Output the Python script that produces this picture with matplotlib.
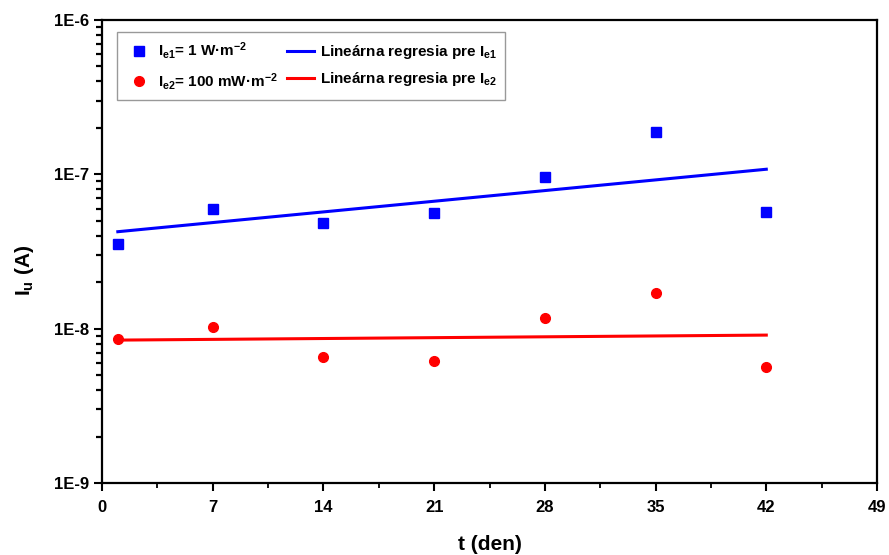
import numpy as np
import matplotlib
matplotlib.use("Agg")
import matplotlib.pyplot as plt

plt.rcParams['font.family'] = ['Liberation Sans', 'DejaVu Sans']
plt.rcParams['font.weight'] = 'bold'
plt.rcParams['mathtext.fontset'] = 'custom'
plt.rcParams['mathtext.rm'] = 'Liberation Sans:bold'
plt.rcParams['mathtext.it'] = 'Liberation Sans:bold'
plt.rcParams['mathtext.bf'] = 'Liberation Sans:bold'

# measurement days
t_days = [1, 7, 14, 21, 28, 35, 42]
# current at Ie1 = 1 W/m2
iu_e1 = [3.56e-8, 6.0e-8, 4.87e-8, 5.65e-8, 9.66e-8, 1.89e-7, 5.74e-8]
# current at Ie2 = 100 mW/m2
iu_e2 = [8.53e-9, 1.02e-8, 6.53e-9, 6.15e-9, 1.18e-8, 1.69e-8, 5.62e-9]

x_ticks = [0, 7, 14, 21, 28, 35, 42, 49]
y_ticks = [1e-9, 1e-8, 1e-7, 1e-6]
y_tick_labels = ["1E-9", "1E-8", "1E-7", "1E-6"]


def log_fit(x, y):
    # linear regression of log10(I) against t
    k, q = np.polyfit(x, np.log10(y), 1)
    xs = np.array([x[0], x[-1]])
    return xs, 10 ** (k * xs + q)


fig = plt.figure(figsize=(8.89, 5.55), dpi=100)
ax = fig.add_axes([102 / 889, 1 - 483 / 555, 775 / 889, 463 / 555])

ax.set_yscale('log')
ax.set_xlim(0, 49)
ax.set_ylim(1e-9, 1e-6)

ax.plot(t_days, iu_e1, 's', color='#0000ff', markersize=7, linestyle='none',
        label=r'$I_{e1}$= 1 W·m$^{-2}$')
ax.plot(t_days, iu_e2, 'o', color='#ff0000', markersize=7, linestyle='none',
        label=r'$I_{e2}$= 100 mW·m$^{-2}$')

fx, fy = log_fit(t_days, iu_e1)
ax.plot(fx, fy, color='#0000ff', linewidth=2.2, label=r'Lineárna regresia pre $I_{e1}$')
fx, fy = log_fit(t_days, iu_e2)
ax.plot(fx, fy, color='#ff0000', linewidth=2.2, label=r'Lineárna regresia pre $I_{e2}$')

ax.set_xticks(x_ticks)
ax.set_xticks(np.arange(3.5, 49, 7), minor=True)
ax.set_yticks(y_ticks)
ax.set_yticklabels(y_tick_labels)
# 2..9 inside every decade
minor_y = [m * 10.0 ** e for e in range(-9, -6) for m in range(2, 10)]
ax.set_yticks(minor_y, minor=True)

for s in ax.spines.values():
    s.set_linewidth(1.6)
ax.tick_params(axis='both', which='major', direction='out', length=6, width=1.5,
               labelsize=12, top=False, right=False)
ax.tick_params(axis='both', which='minor', direction='out', length=3.5, width=1.3,
               top=False, right=False, labelleft=False, labelbottom=False)
ax.tick_params(axis='y', which='minor', length=4, width=1.6, color='black')
ax.tick_params(axis='x', which='major', pad=6)

ax.set_xlabel('t (den)', fontsize=15, fontweight='bold', labelpad=15)
ax.set_ylabel(r'$I_u$ (A)', fontsize=15, fontweight='bold')
ax.yaxis.set_label_coords(-0.085, 0.46)

leg = ax.legend(ncol=2, loc='upper left', bbox_to_anchor=(0.019, 0.974),
                fontsize=11, frameon=True, fancybox=False, edgecolor='#808080',
                handlelength=1.8, columnspacing=0.6, borderpad=0.55,
                labelspacing=0.6, handletextpad=0.35, borderaxespad=0)
leg.get_frame().set_linewidth(1.0)

fig.savefig('out.png', dpi=100)
